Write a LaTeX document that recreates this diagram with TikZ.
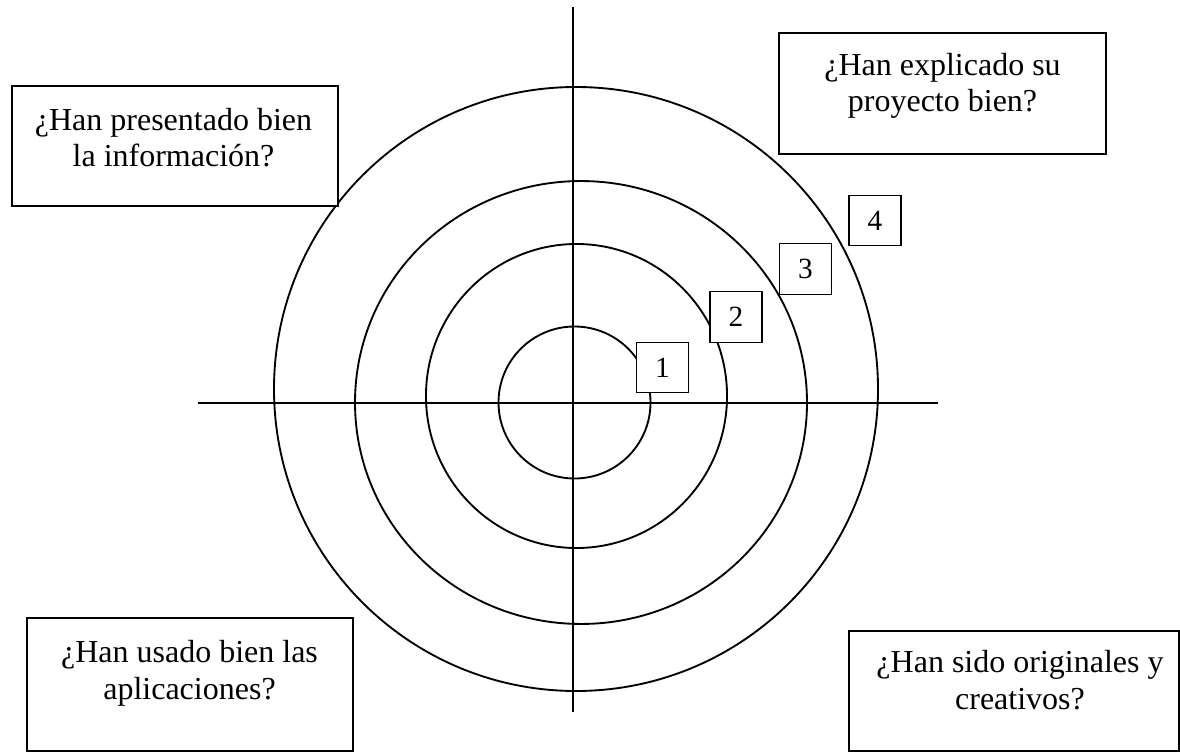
\documentclass[tikz,border=0pt]{standalone}
\usepackage{fontspec}
\setmainfont{Liberation Serif}
\begin{document}
\begin{tikzpicture}[x=0.75pt,y=-0.75pt,
  qbox/.style={draw, line width=0.8pt, fill=white, inner sep=0pt},
  qtext/.style={align=center, anchor=base, font=\fontsize{24}{27.5}\selectfont, inner sep=0pt},
  numbox/.style={draw, line width=0.8pt, fill=white, minimum width=39pt, minimum height=38pt, inner sep=0pt, font=\fontsize{22}{24}\selectfont},
  ring/.style={line width=1.4pt},
  axis/.style={line width=1pt}]
\useasboundingbox (0,0) rectangle (1180,752);
% axes
\coordinate (hl) at (198,403);
\coordinate (hr) at (938,403);
\coordinate (vt) at (573,7);
\coordinate (vb) at (573,712);
\draw[axis] (hl) -- (hr);
\draw[axis] (vt) -- (vb);
% rings
\draw[ring] (574.5,402.5) circle [radius=57pt];
\draw[ring] (576.5,396) ellipse [x radius=112.9pt, y radius=114pt];
\draw[ring] (581,402.5) ellipse [x radius=169.5pt, y radius=166.1pt];
\draw[ring] (576,389) circle [radius=226.5pt];
% number boxes
\node[numbox] (n1) at (662.5,367.5) {1};
\node[numbox] (n2) at (736,317) {2};
\node[numbox] (n3) at (805.5,269) {3};
\node[numbox] (n4) at (875,220.5) {4};
% question boxes
\node[qbox, minimum width=244.5pt, minimum height=90pt] (tl) at (175,146) {};
\node[qtext] (tlt) at (173.5,167) {¿Han presentado bien\\la información?};
\node[qbox, minimum width=245.25pt, minimum height=90.75pt] (tr) at (942.5,93.5) {};
\node[qtext] (trt) at (942.5,112) {¿Han explicado su\\proyecto bien?};
\node[qbox, minimum width=244.5pt, minimum height=99.75pt] (bl) at (190,684.5) {};
\node[qtext] (blt) at (189.5,699) {¿Han usado bien las\\aplicaciones?};
\node[qbox, minimum width=247.5pt, minimum height=90pt] (br) at (1014,691) {};
\node[qtext] (brt) at (1020,709) {¿Han sido originales y\\creativos?};
\end{tikzpicture}
\end{document}
